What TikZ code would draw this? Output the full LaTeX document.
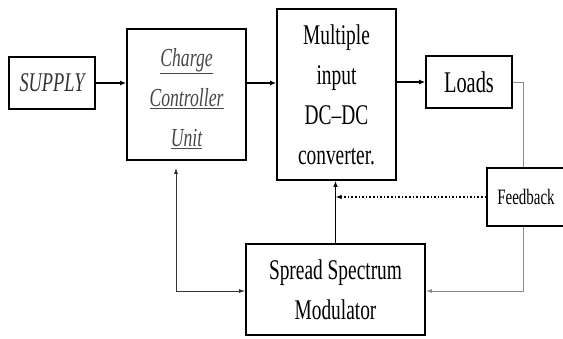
\documentclass[tikz,border=0pt]{standalone}
\usepackage{fontspec}
\setmainfont[FakeStretch=0.68]{Liberation Serif}
\usetikzlibrary{arrows.meta}
\begin{document}
\begin{tikzpicture}[x=1pt,y=-1pt,
  box/.style={draw=black,line width=1.7pt,inner sep=0pt,align=center},
  big/.style={font=\fontsize{28.5}{40}\selectfont},
  thickarrow/.style={line width=1.8pt,-{Latex[length=6pt,width=5pt]}},
  thinarrow/.style={line width=0.8pt,black!80,-{Latex[length=6pt,width=4pt]}},
  grayline/.style={line width=0.9pt,black!45},
  midarrow/.style={line width=1.3pt,-{Latex[length=6pt,width=4.5pt]}},
  dotarrow/.style={line width=1.6pt,dotted,-{Latex[length=6pt,width=4.5pt]}}]
\clip (0,0) rectangle (563,338);
\fill[white] (0,0) rectangle (563,338);
\node[box,minimum width=86pt,minimum height=52pt,text=black!80,font=\fontsize{27}{36}\selectfont\itshape] (supply) at (52,83) {SUPPLY};
\node[box,minimum width=119pt,minimum height=131pt] (ccu) at (186.5,94.5) {};
\node[align=center,inner sep=0pt,text=black!72,font=\fontsize{26}{40}\selectfont\itshape] (ccutext) at ([yshift=-4pt]ccu.center) {\underline{Charge}\\\underline{Controller}\\\underline{Unit}};
\node[box,big,minimum width=119pt,minimum height=171pt] (mic) at (336.5,94.5) {Multiple\\input\\DC--DC\\converter.};
\node[box,font=\fontsize{30}{36}\selectfont,minimum width=86pt,minimum height=52pt] (loads) at (469,82) {Loads};
\node[box,font=\fontsize{22}{30}\selectfont,minimum width=78pt,minimum height=58pt] (fb) at (526,197) {Feedback};
\node[box,big,minimum width=179pt,minimum height=91pt] (ssm) at (335.5,289.5) {Spread Spectrum\\Modulator};
\coordinate (fbx) at (523,82);
\coordinate (low) at (176,291);
\draw[thickarrow] (supply.east) -- (supply.east -| ccu.west);
\draw[thickarrow] (ccu.east |- supply.east) -- (mic.west |- supply.east);
\draw[thickarrow] (mic.east |- loads.west) -- (loads.west);
\draw[grayline] (loads.east) -- (fbx) -- (fbx |- fb.north);
\draw[grayline,-{Latex[length=6pt,width=4pt]}] (fbx |- fb.south) -- (fbx |- low) -- (ssm.east |- low);
\draw[midarrow] (ssm.north) -- (mic.south -| ssm.north);
\draw[dotarrow] (fb.west) -- (fb.west -| ssm.north);
\draw[thinarrow,shorten >=7pt] (low) -- (low |- ccu.south);
\draw[thinarrow] (low) -- (ssm.west |- low);
\end{tikzpicture}
\end{document}
